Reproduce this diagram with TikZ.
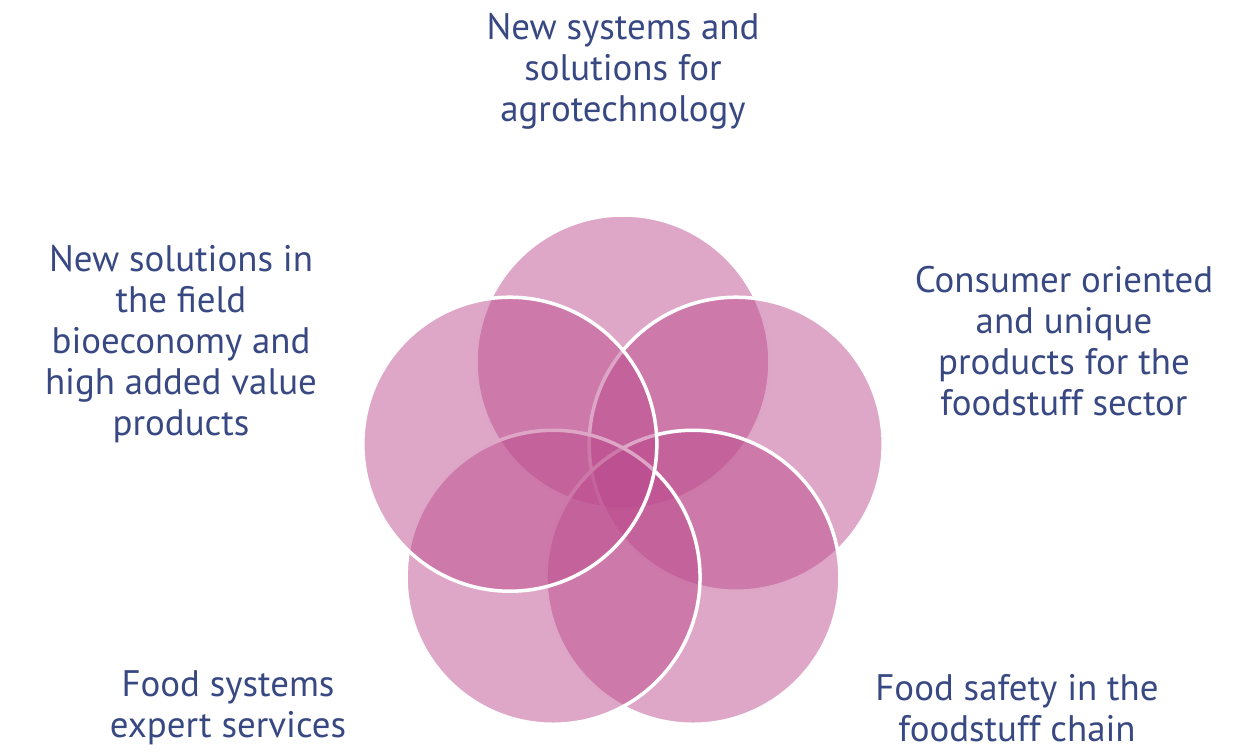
\documentclass[tikz,border=0pt]{standalone}
\usepackage{fontspec}
\setmainfont{PT Sans}
\usetikzlibrary{positioning,calc}
\definecolor{petalpink}{RGB}{187,74,140}
\definecolor{labelblue}{RGB}{56,72,130}

\begin{document}
\begin{tikzpicture}[
		petal/.style={circle,minimum size=5.88cm,inner sep=0pt,outer sep=0pt,
			fill=petalpink,fill opacity=0.485,draw=white,line width=2pt},
		topic/.style={align=center,text=labelblue,inner sep=0pt,
			font=\fontsize{21}{23.4}\selectfont}]
	\useasboundingbox (0,0) rectangle (24.82,15.04);
	\coordinate (O) at (12.46,5.42);
	% five overlapping circles
	\node[petal] (top) at ($(O)+(90:2.38)$) {};
	\node[petal] (right) at ($(O)+(18:2.38)$) {};
	\node[petal] (lowright) at ($(O)+(-54:2.38)$) {};
	\node[petal] (lowleft) at ($(O)+(-126:2.38)$) {};
	\node[petal] (left) at ($(O)+(162:2.38)$) {};
	% labels
	\node[topic] (agro) at (12.46,13.62) {New systems and\\solutions for\\agrotechnology};
	\node[topic] (bio) at (3.62,8.16) {New solutions in\\the field\\bioeconomy and\\high added value\\products};
	\node[topic] (consumer) at (21.28,8.22) {Consumer oriented\\and unique\\products for the\\foodstuff sector};
	\node[topic] (expert) at (4.56,0.88) {Food systems\\expert services};
	\node[topic] (safety) at (20.34,0.88) {Food safety in the\\foodstuff chain};
\end{tikzpicture}
\end{document}
